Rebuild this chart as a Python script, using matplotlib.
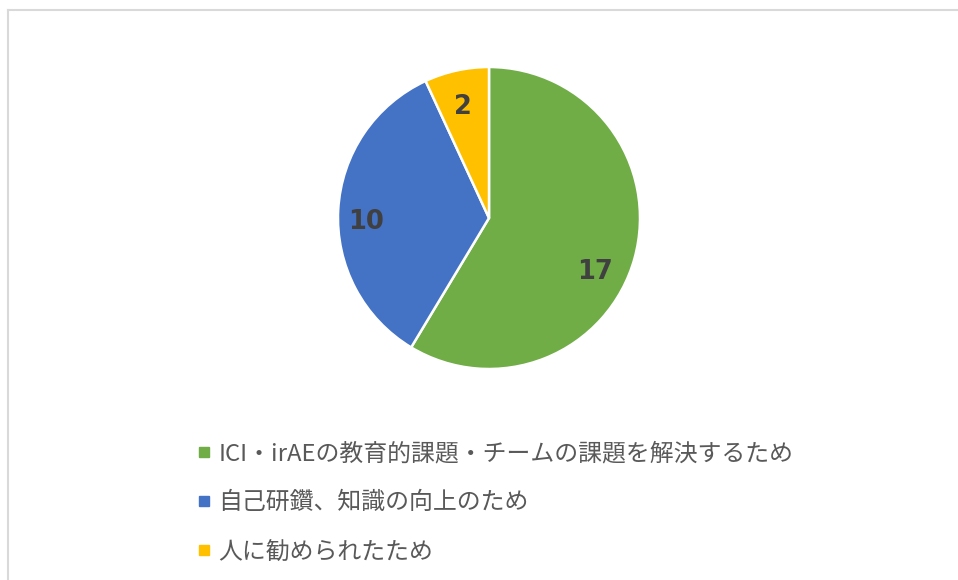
import numpy as np
import matplotlib.pyplot as plt
from matplotlib.lines import Line2D

plt.rcParams['font.family'] = ['Noto Sans CJK JP', 'DejaVu Sans']

labels = ['ICI・irAEの教育的課題・チームの課題を解決するため',
          '自己研鑽、知識の向上のため',
          '人に勧められたため']
counts = [17, 10, 2]
colors = ['#70AD47', '#4472C4', '#FFC000']
# where Excel put each data label, in units of the pie radius
label_pos = [(0.70, -0.36), (-0.815, -0.026), (-0.17, 0.735)]

W, H = 958, 580
fig = plt.figure(figsize=(W / 100, H / 100), dpi=100)

# chart frame (light gray, runs off the right and bottom edge)
fig.add_artist(Line2D([8 / W, 1], [1 - 10 / H, 1 - 10 / H], color='#D9D9D9', lw=1.5))
fig.add_artist(Line2D([8 / W, 8 / W], [0, 1 - 10 / H], color='#D9D9D9', lw=1.5))

cx, cy, r = 489, 218, 151
ax = fig.add_axes([(cx - r) / W, (H - cy - r) / H, 2 * r / W, 2 * r / H])
wedges, _ = ax.pie(counts, colors=colors, startangle=90, counterclock=False,
                   wedgeprops=dict(edgecolor='white', linewidth=1.8))
for (x, y), n in zip(label_pos, counts):
    ax.text(x, y, str(n), ha='center', va='center',
            fontsize=18.5, fontweight='bold', color='#404040', family='DejaVu Sans')
ax.set_xlim(-1, 1)
ax.set_ylim(-1, 1)

handles = [Line2D([], [], marker='s', linestyle='none', markersize=7, color=c) for c in colors]
leg = fig.legend(handles, labels, loc='upper left', bbox_to_anchor=(185 / W, 1 - 430 / H),
                 frameon=False, fontsize=17.2, labelcolor='#595959',
                 handlelength=0.6, handletextpad=0.3, labelspacing=1.10, borderpad=0)

fig.savefig('out.png', dpi=100)
